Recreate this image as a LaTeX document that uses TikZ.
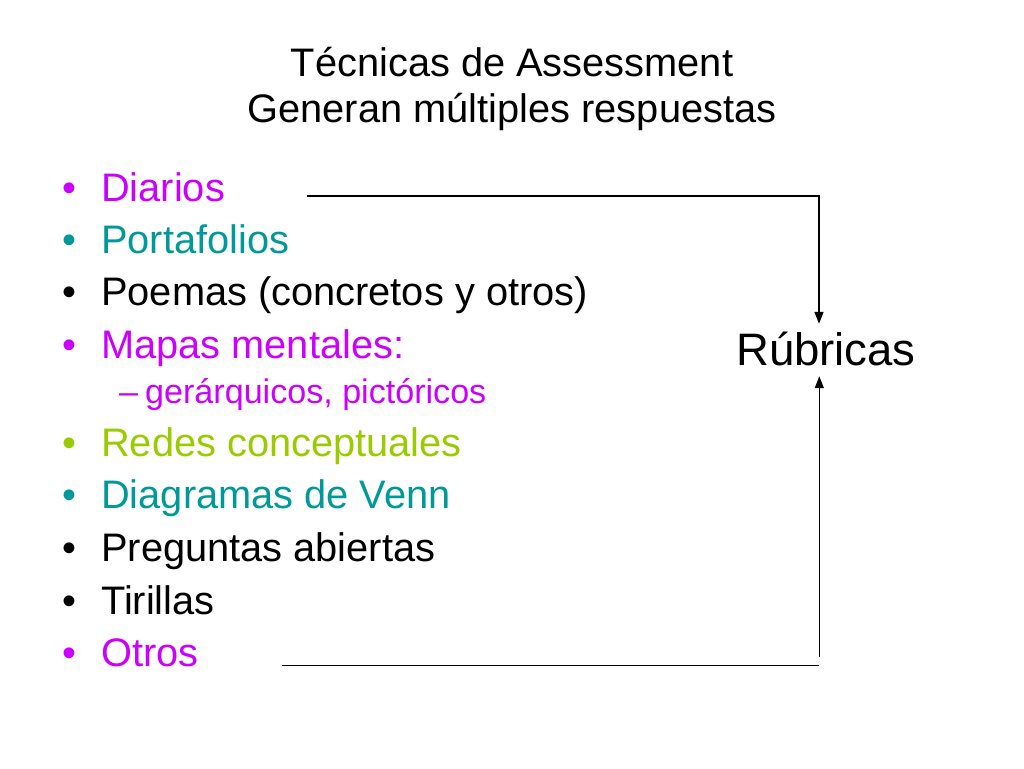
\documentclass[tikz,border=0pt]{standalone}
\usepackage{fontspec}
\setmainfont{Liberation Sans}
\usetikzlibrary{arrows.meta}
\definecolor{mag}{RGB}{204,0,255}
\definecolor{teal}{RGB}{0,153,153}
\definecolor{lime}{RGB}{153,204,0}
\begin{document}
\begin{tikzpicture}[x=1pt,y=-1pt,
  ttl/.style={anchor=base,inner sep=0pt,font=\fontsize{39.8}{46}\selectfont},
  item/.style={anchor=base west,inner sep=0pt,font=\fontsize{39.8}{46}\selectfont},
  subitem/.style={anchor=base west,inner sep=0pt,font=\fontsize{34.1}{40}\selectfont},
  bul/.style={anchor=base,inner sep=0pt,font=\fontsize{39.8}{46}\selectfont},
  conn/.style={line width=1.4pt,black},
  arr/.style={conn,-{Triangle[length=12pt,width=9pt]}}]
\useasboundingbox[fill=white] (0,0) rectangle (1024,768);
% title
\node[ttl] (t1) at (512,76) {Técnicas de Assessment};
\node[ttl] (t2) at (512,122) {Generan múltiples respuestas};
% bullets
\node[bul,text=mag]  (b1)  at (69,201) {•};
\node[item,text=mag] (i1)  at (101,201) {Diarios};
\node[bul,text=teal]  (b2)  at (69,253) {•};
\node[item,text=teal] (i2)  at (101,253) {Portafolios};
\node[bul]  (b3)  at (69,305) {•};
\node[item] (i3)  at (101,305) {Poemas (concretos y otros)};
\node[bul,text=mag]  (b4)  at (69,358) {•};
\node[item,text=mag] (i4)  at (101,358) {Mapas mentales:};
\node[subitem,text=mag,anchor=base] (d4) at (128.5,403) {–};
\node[subitem,text=mag] (s4) at (145,403) {gerárquicos, pictóricos};
\node[bul,text=lime]  (b5)  at (69,456) {•};
\node[item,text=lime] (i5)  at (101,456) {Redes conceptuales};
\node[bul,text=teal]  (b6)  at (69,508) {•};
\node[item,text=teal] (i6)  at (101,508) {Diagramas de Venn};
\node[bul]  (b7)  at (69,561) {•};
\node[item] (i7)  at (101,561) {Preguntas abiertas};
\node[bul]  (b8)  at (69,614) {•};
\node[item] (i8)  at (101,614) {Tirillas};
\node[bul,text=mag]  (b9)  at (69,666) {•};
\node[item,text=mag] (i9)  at (101,666) {Otros};
% Rubricas
\node[anchor=base,inner sep=0pt,text height=41pt,text depth=11pt,
      font=\fontsize{45.5}{52}\selectfont] (rub) at (826,365) {Rúbricas};
% connectors
\coordinate (a0) at (307,196);
\coordinate (a1) at (819,196);
\draw[arr] (a0) -- (a1) -- (a1 |- rub.north);
\coordinate (o0) at (282,665.7);
\coordinate (o1) at (819,665.7);
\coordinate (o2) at (819.3,657);
\draw[conn] (o0) -- (o1);
\draw[arr] (o2) -- (o2 |- rub.south);
\end{tikzpicture}
\end{document}
